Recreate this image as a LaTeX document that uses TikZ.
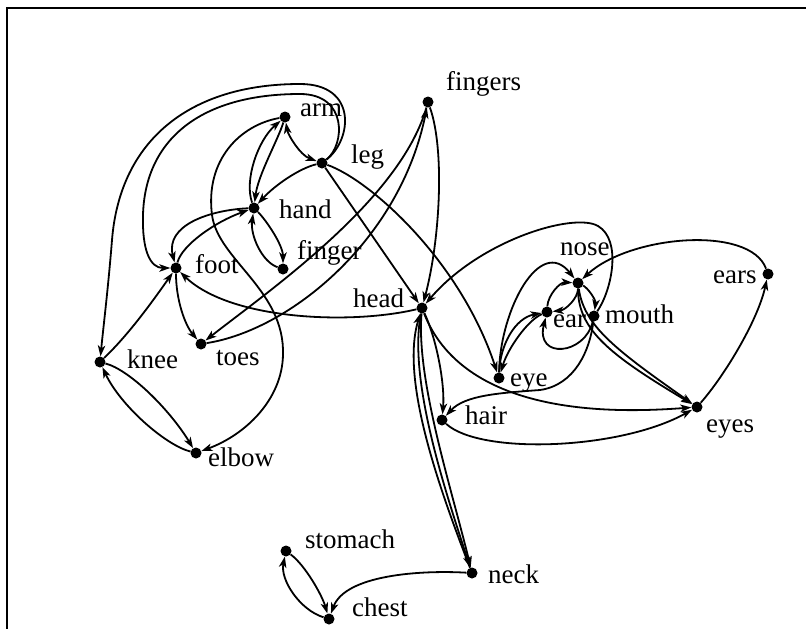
\documentclass[tikz,border=0pt]{standalone}
\usepackage{fontspec}
\setmainfont{Liberation Serif}
\usetikzlibrary{arrows.meta}
\tikzset{
  pt/.style={circle, fill=black, inner sep=0pt, minimum size=11pt},
  word/.style={anchor=base west, inner sep=0pt, font=\fontsize{27}{30}\selectfont},
  link/.style={line width=1.8pt, -{Stealth[length=11pt,width=7.5pt,inset=3pt]}},
  both/.style={line width=1.8pt, {Stealth[length=11pt,width=7.5pt,inset=3pt]}-{Stealth[length=11pt,width=7.5pt,inset=3pt]}},
}

\begin{document}
\begin{tikzpicture}[x=1pt, y=-1pt]
  \useasboundingbox (0,0) rectangle (806,629);
  % Frame
  \draw[line width=1.8pt] (7,629) -- (7,8) -- (806,8);
  % Points
  \node[pt] (fingers) at (428,102) {};
  \node[pt] (arm) at (285,117) {};
  \node[pt] (leg) at (322,163) {};
  \node[pt] (hand) at (254,208) {};
  \node[pt] (finger) at (283,269) {};
  \node[pt] (foot) at (176,268) {};
  \node[pt] (head) at (422,308) {};
  \node[pt] (knee) at (100,362) {};
  \node[pt] (toes) at (201,344) {};
  \node[pt] (elbow) at (196,453) {};
  \node[pt] (nose) at (578,283) {};
  \node[pt] (ear) at (547,312) {};
  \node[pt] (mouth) at (594,316) {};
  \node[pt] (ears) at (768,274) {};
  \node[pt] (eye) at (499,378) {};
  \node[pt] (hair) at (442,420) {};
  \node[pt] (eyes) at (697,407) {};
  \node[pt] (stomach) at (286,551) {};
  \node[pt] (chest) at (329,619) {};
  \node[pt] (neck) at (472,573) {};
  % Labels
  \node[word] (t-fingers) at (446,90) {fingers};
  \node[word] (t-arm) at (300,116) {arm};
  \node[word] (t-leg) at (351,163) {leg};
  \node[word] (t-hand) at (279,218) {hand};
  \node[word] (t-finger) at (297,259) {finger};
  \node[word] (t-foot) at (195,273) {foot};
  \node[word] (t-head) at (353,307) {head};
  \node[word] (t-knee) at (127,368) {knee};
  \node[word] (t-toes) at (216,365) {toes};
  \node[word] (t-elbow) at (208,466) {elbow};
  \node[word] (t-nose) at (560,255) {nose};
  \node[word] (t-ear) at (553,327) {ear};
  \node[word] (t-mouth) at (605,323) {mouth};
  \node[word] (t-ears) at (713,283) {ears};
  \node[word] (t-eye) at (510,386) {eye};
  \node[word] (t-hair) at (465,424) {hair};
  \node[word] (t-eyes) at (706,432) {eyes};
  \node[word] (t-stomach) at (305,548) {stomach};
  \node[word] (t-chest) at (352,616) {chest};
  \node[word] (t-neck) at (488,583) {neck};
  % arm, leg, hand
  \draw[both] (arm) .. controls (288,135) and (300,155) .. (leg);
  \draw[link] (hand) .. controls (244,180) and (258,140) .. (arm);
  \draw[link] (arm) .. controls (278,140) and (258,175) .. (hand);
  \draw[link] (leg) .. controls (300,168) and (275,185) .. (hand);
  \draw[link] (hand) .. controls (266,220) and (283,245) .. (finger);
  \draw[link] (finger) .. controls (262,262) and (250,235) .. (hand);
  \draw[link] (hand) .. controls (210,210) and (165,225) .. (foot);
  \draw[link] (foot) .. controls (182,245) and (215,222) .. (hand);
  % Big loops
  \draw[link] (leg) .. controls (352,140) and (358,84) .. (300,84)
    .. controls (190,84) and (120,140) .. (112,240)
    .. controls (108,290) and (103,330) .. (knee);
  \draw[link] (leg) .. controls (345,145) and (348,94) .. (300,94)
    .. controls (200,94) and (145,140) .. (143,215)
    .. controls (142,250) and (150,268) .. (foot);
  \draw[link] (arm) .. controls (240,125) and (205,160) .. (212,215)
    .. controls (218,260) and (285,290) .. (283,355)
    .. controls (282,400) and (245,435) .. (elbow);
  % foot, knee, toes, elbow
  \draw[link] (foot) .. controls (176,300) and (185,325) .. (toes);
  \draw[link] (knee) .. controls (128,335) and (150,305) .. (foot);
  \draw[link] (knee) .. controls (130,370) and (170,410) .. (elbow);
  \draw[link] (elbow) .. controls (165,445) and (120,405) .. (knee);
  % fingers
  \draw[link] (fingers) .. controls (445,150) and (440,240) .. (head);
  \draw[link] (fingers) .. controls (400,200) and (270,290) .. (toes);
  \draw[link] (toes) .. controls (290,330) and (400,240) .. (fingers);
  % head
  \draw[link] (leg) -- (head);
  \draw[link] (leg) .. controls (370,180) and (460,260) .. (eye);
  \draw[link] (head) .. controls (350,325) and (230,320) .. (foot);
  \draw[link] (head) .. controls (437,340) and (445,385) .. (hair);
  \draw[link] (head) .. controls (450,380) and (530,420) .. (eyes);
  \draw[link] (hair) .. controls (480,455) and (620,450) .. (eyes);
  \draw[link] (neck) .. controls (440,490) and (400,380) .. (head);
  \draw[link] (head) .. controls (408,380) and (445,490) .. (neck);
  \draw[link] (head) .. controls (416,380) and (452,490) .. (neck);
  % neck, chest, stomach
  \draw[link] (neck) .. controls (420,570) and (345,575) .. (chest);
  \draw[link] (stomach) .. controls (305,565) and (322,595) .. (chest);
  \draw[link] (chest) .. controls (300,610) and (280,580) .. (stomach);
  % Face
  \draw[link] (mouth) .. controls (612,290) and (622,240) .. (598,226)
    .. controls (574,212) and (480,240) .. (head);
  \draw[link] (mouth) .. controls (590,350) and (575,385) .. (540,390)
    .. controls (500,393) and (465,395) .. (hair);
  \draw[link] (eye) .. controls (500,310) and (540,235) .. (nose);
  \draw[link] (eye) .. controls (500,345) and (515,318) .. (ear);
  \draw[link] (ear) .. controls (528,320) and (508,348) .. (eye);
  \draw[link] (ear) .. controls (548,295) and (560,282) .. (nose);
  \draw[link] (nose) .. controls (578,298) and (566,310) .. (ear);
  \draw[link] (mouth) .. controls (585,355) and (535,360) .. (ear);
  \draw[link] (nose) .. controls (588,288) and (596,300) .. (mouth);
  \draw[link] (nose) .. controls (578,330) and (610,355) .. (eyes);
  \draw[link] (nose) .. controls (584,326) and (616,350) .. (eyes);
  \draw[link] (ears) .. controls (750,225) and (630,235) .. (nose);
  \draw[link] (eyes) .. controls (725,375) and (758,320) .. (ears);
\end{tikzpicture}
\end{document}
